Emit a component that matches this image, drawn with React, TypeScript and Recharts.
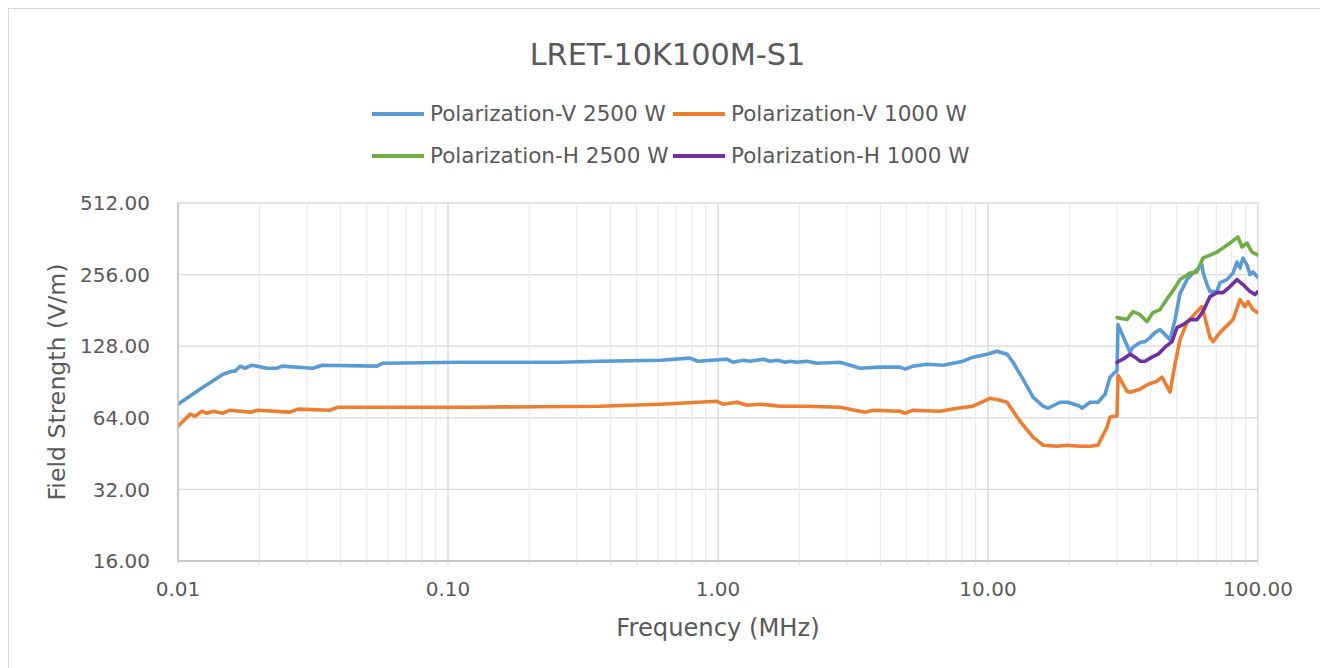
import React from 'react';
import { LineChart, Line, XAxis, YAxis, CartesianGrid, ReferenceLine } from 'recharts';

// ---------- data (frequency MHz, field strength V/m) ----------
const TITLE = 'LRET-10K100M-S1';
const X_TITLE = 'Frequency (MHz)';
const Y_TITLE = 'Field Strength (V/m)';

const SERIES_NAMES = [
  'Polarization-V 2500 W',
  'Polarization-V 1000 W',
  'Polarization-H 2500 W',
  'Polarization-H 1000 W',
];
const SERIES_COLORS = ['#5b9bd5', '#ed7d31', '#70ad47', '#7030a0'];

const MAJOR_X_TICKS = [0.01, 0.1, 1, 10, 100];
const MINOR_X_TICKS = [
  0.02, 0.03, 0.04, 0.05, 0.06, 0.07, 0.08, 0.09,
  0.2, 0.3, 0.4, 0.5, 0.6, 0.7, 0.8, 0.9,
  2, 3, 4, 5, 6, 7, 8, 9,
  20, 30, 40, 50, 60, 70, 80, 90,
];
const Y_TICKS = [16, 32, 64, 128, 256, 512];

const V2500: [number, number][] = [
  [0.01, 73.0], [0.01206, 84.4], [0.01468, 97.6], [0.01585, 100.5], [0.01626, 100.5],
  [0.01697, 105.5], [0.01771, 103.4], [0.0188, 106.5], [0.02136, 103.4], [0.02326, 103.4],
  [0.02428, 105.5], [0.0316, 103.4], [0.0342, 106.5], [0.0546, 105.5], [0.0574, 108.6],
  [0.111, 109.6], [0.26, 109.6], [0.366, 110.7], [0.61, 111.7], [0.788, 114.0],
  [0.843, 110.7], [1.08, 112.9], [1.137, 109.6], [1.238, 111.7], [1.314, 110.7],
  [1.468, 112.9], [1.558, 110.7], [1.668, 111.7], [1.771, 109.6], [1.848, 110.7],
  [1.962, 109.6], [2.136, 110.7], [2.326, 108.6], [2.831, 109.6], [3.083, 106.5],
  [3.357, 103.4], [3.981, 104.5], [4.723, 104.5], [4.929, 102.5], [5.275, 105.5],
  [5.945, 107.5], [6.813, 106.5], [7.421, 108.6], [8.08, 110.7], [8.8, 115.1],
  [9.92, 118.5], [10.8, 122.0], [11.76, 118.5], [12.38, 109.6], [13.48, 93.0],
  [14.68, 78.1], [15.99, 71.6], [16.68, 70.2], [18.48, 74.4], [19.78, 74.4],
  [21.91, 71.6], [22.29, 70.2], [23.87, 74.4], [25.55, 74.4], [27.13, 80.4],
  [28.31, 94.8], [29.54, 99.5], [30.05, 100.5], [30.31, 157.7], [33.57, 120.8],
  [34.44, 126.8], [36.56, 132.6], [38.14, 133.8], [39.81, 139.1], [41.55, 146.0],
  [43.37, 150.3], [44.5, 146.0], [47.23, 136.4], [49.28, 165.6], [51.42, 213.0],
  [54.58, 243.9], [57.44, 259.9], [62.02, 280.9], [62.56, 262.5], [64.73, 232.4],
  [66.41, 217.2], [70.49, 217.2], [72.32, 236.9], [76.78, 243.9], [80.8, 259.9],
  [83.6, 289.1], [85.77, 272.8], [88.0, 300.5], [91.07, 280.9], [93.42, 256.0],
  [95.83, 262.5], [100, 248.7],
];

const V1000: [number, number][] = [
  [0.01, 59.0], [0.0111, 66.3], [0.01156, 65.0], [0.01227, 68.2], [0.0128, 66.9],
  [0.01348, 68.2], [0.01468, 66.9], [0.01558, 68.9], [0.01848, 67.6], [0.01978, 68.9],
  [0.026, 67.6], [0.0278, 69.6], [0.0366, 68.9], [0.0391, 70.9], [0.1206, 70.9],
  [0.366, 71.6], [0.61, 73.0], [0.992, 75.1], [1.044, 73.0], [1.176, 74.4],
  [1.281, 72.3], [1.431, 73.0], [1.697, 71.6], [2.136, 71.6], [2.831, 70.9],
  [3.503, 67.6], [3.751, 68.9], [4.723, 68.2], [4.929, 66.9], [5.275, 68.9],
  [6.642, 68.2], [7.678, 70.2], [8.8, 71.6], [10.17, 77.3], [11.08, 75.9],
  [11.76, 74.4], [13.14, 61.9], [14.68, 53.1], [15.99, 49.1], [18.01, 48.6],
  [19.62, 49.1], [21.91, 48.6], [23.87, 48.6], [25.55, 49.1], [27.58, 58.4],
  [28.31, 64.4], [29.04, 65.0], [30.05, 65.0], [30.31, 96.6], [32.72, 82.8],
  [33.57, 82.0], [36.56, 84.4], [39.14, 88.6], [42.27, 91.2], [44.12, 94.8],
  [47.23, 82.0], [49.28, 107.5], [51.42, 136.4], [54.58, 160.8], [59.43, 178.9],
  [62.02, 187.8], [63.63, 168.8], [66.41, 139.1], [68.13, 133.8], [72.32, 146.0],
  [77.43, 157.7], [80.8, 165.6], [85.77, 201.0], [89.5, 187.8], [91.84, 197.1],
  [95.83, 182.4], [100, 177.2],
];

const H2500: [number, number][] = [
  [30.05, 168.8], [32.72, 165.6], [34.44, 178.9], [36.56, 173.7], [38.8, 162.4],
  [40.84, 177.2], [43.37, 182.4], [46.42, 204.9], [49.28, 225.7], [51.42, 243.9],
  [56.0, 259.9], [59.43, 262.5], [62.56, 300.5], [66.41, 309.3], [70.49, 318.5],
  [74.2, 331.1], [78.77, 347.5], [84.3, 368.4], [87.24, 334.4], [91.07, 347.5],
  [95.0, 318.5], [100, 309.3],
];

const H1000: [number, number][] = [
  [30.05, 109.6], [31.62, 112.9], [33.57, 118.5], [35.03, 115.1], [36.56, 110.7],
  [38.14, 110.7], [40.5, 115.1], [42.64, 118.5], [45.26, 126.8], [48.04, 133.8],
  [50.12, 153.2], [52.76, 157.7], [56.0, 165.6], [59.43, 165.6], [62.56, 178.9],
  [66.41, 206.9], [70.49, 215.1], [74.2, 215.1], [78.77, 228.1], [83.6, 243.9],
  [88.0, 232.4], [93.42, 217.2], [97.47, 211.0], [100, 217.2],
];

const SERIES = [V2500, V1000, H2500, H1000];

const toRows = (pts: [number, number][]) => pts.map(([f, v]) => ({ f, v }));

const FONT = '"DejaVu Sans", "Liberation Sans", sans-serif';
const TEXT = '#595959';

function LegendItem({ color, label, left, top }: { color: string; label: string; left: number; top: number }) {
  return (
    <div style={{ position: 'absolute', left, top, display: 'flex', alignItems: 'center', height: 24 }}>
      <div style={{ width: 52, height: 4, background: color, marginRight: 6 }} />
      <span style={{ fontSize: 21.5, color: TEXT, whiteSpace: 'nowrap', lineHeight: '24px' }}>{label}</span>
    </div>
  );
}

export default function App() {
  const allX = [...MAJOR_X_TICKS, ...MINOR_X_TICKS].sort((a, b) => a - b);
  return (
    <div
      style={{
        position: 'relative',
        width: 1319,
        height: 670,
        border: '1px solid #d9d9d9',
        boxSizing: 'border-box',
        background: '#fff',
        fontFamily: FONT,
        color: TEXT,
      }}
    >
      <style>{'html,body{overflow:hidden}'}</style>
      <div
        style={{
          position: 'absolute',
          left: 0,
          top: 29,
          width: 1317,
          textAlign: 'center',
          fontSize: 30.3,
          lineHeight: '34px',
          color: TEXT,
        }}
      >
        {TITLE}
      </div>

      <LegendItem color={SERIES_COLORS[0]} label={SERIES_NAMES[0]} left={363} top={93} />
      <LegendItem color={SERIES_COLORS[1]} label={SERIES_NAMES[1]} left={664} top={93} />
      <LegendItem color={SERIES_COLORS[2]} label={SERIES_NAMES[2]} left={363} top={135} />
      <LegendItem color={SERIES_COLORS[3]} label={SERIES_NAMES[3]} left={664} top={135} />

      <div style={{ position: 'absolute', left: 0, top: 0 }}>
        <LineChart width={1310} height={650} margin={{ top: 194, right: 61, bottom: 38, left: 69 }}>
          <CartesianGrid horizontal vertical={false} stroke="#d9d9d9" strokeWidth={1.3} />
          {MINOR_X_TICKS.map((t) => (
            <ReferenceLine key={'m' + t} x={t} stroke="#ebebeb" strokeWidth={1.3} />
          ))}
          {MAJOR_X_TICKS.map((t) => (
            <ReferenceLine key={'M' + t} x={t} stroke="#d4d4d4" strokeWidth={1.3} />
          ))}
          <XAxis
            type="number"
            dataKey="f"
            scale="log"
            domain={[0.01, 100]}
            allowDataOverflow
            ticks={allX}
            interval={0}
            height={60}
            tickSize={4}
            tickMargin={17}
            axisLine={{ stroke: '#bfbfbf', strokeWidth: 1.3 }}
            tickLine={{ stroke: '#d9d9d9' }}
            tick={{ fill: TEXT, fontSize: 20, fontFamily: FONT }}
            tickFormatter={(v: number) => (MAJOR_X_TICKS.includes(v) ? v.toFixed(2) : '')}
          />
          <YAxis
            type="number"
            scale="log"
            domain={[16, 512]}
            allowDataOverflow
            ticks={Y_TICKS}
            interval={0}
            width={100}
            tickSize={0}
            tickMargin={28}
            axisLine={{ stroke: '#bfbfbf', strokeWidth: 1.3 }}
            tickLine={false}
            tick={{ fill: TEXT, fontSize: 20, fontFamily: FONT }}
            tickFormatter={(v: number) => v.toFixed(2)}
          />
          {SERIES.map((s, i) => (
            <Line
              key={SERIES_NAMES[i]}
              data={toRows(s)}
              dataKey="v"
              name={SERIES_NAMES[i]}
              type="linear"
              stroke={SERIES_COLORS[i]}
              strokeWidth={3.6}
              strokeLinejoin="round"
              strokeLinecap="round"
              dot={false}
              activeDot={false}
              isAnimationActive={false}
            />
          ))}
        </LineChart>
      </div>

      <div
        style={{
          position: 'absolute',
          left: 709,
          top: 619,
          transform: 'translate(-50%, -50%)',
          fontSize: 24.2,
          whiteSpace: 'nowrap',
          color: TEXT,
        }}
      >
        {X_TITLE}
      </div>
      <div
        style={{
          position: 'absolute',
          left: 48,
          top: 373,
          transform: 'translate(-50%, -50%) rotate(-90deg)',
          fontSize: 23.6,
          whiteSpace: 'nowrap',
          color: TEXT,
        }}
      >
        {Y_TITLE}
      </div>
    </div>
  );
}
